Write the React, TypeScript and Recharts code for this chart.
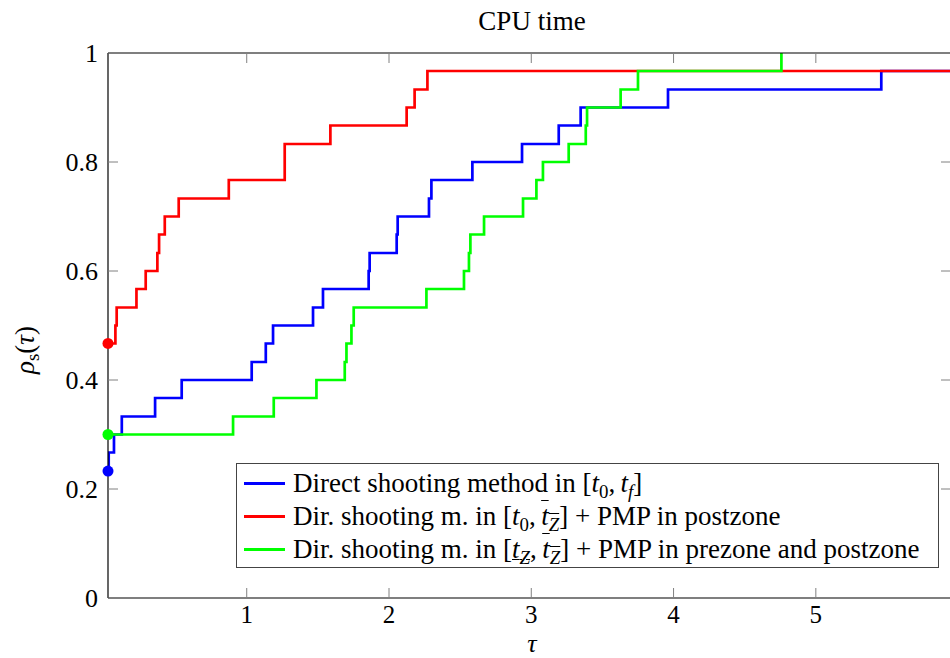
import React from 'react';
import { LineChart, Line, XAxis, YAxis, ReferenceDot } from 'recharts';

// tau at which each step starts, and the profile value from there on
const directTau = [0.025, 0.03, 0.067, 0.122, 0.356, 0.543, 1.035, 1.134, 1.185, 1.466, 1.536, 1.857, 1.864, 2.054, 2.061, 2.281, 2.298, 2.586, 2.935, 3.193, 3.347, 3.961, 5.46, 5.95];
const directRho = [0.233, 0.267, 0.3, 0.333, 0.367, 0.4, 0.433, 0.467, 0.5, 0.533, 0.567, 0.6, 0.633, 0.667, 0.7, 0.733, 0.767, 0.8, 0.833, 0.867, 0.9, 0.933, 0.967, 0.967];

const postTau = [0.025, 0.077, 0.086, 0.225, 0.29, 0.372, 0.384, 0.424, 0.522, 0.874, 1.267, 1.588, 2.124, 2.18, 2.27, 5.95];
const postRho = [0.467, 0.5, 0.533, 0.567, 0.6, 0.633, 0.667, 0.7, 0.733, 0.767, 0.833, 0.867, 0.9, 0.933, 0.967, 0.967];

const prePostTau = [0.025, 0.904, 1.19, 1.49, 1.689, 1.701, 1.736, 1.752, 2.263, 2.527, 2.562, 2.572, 2.668, 2.942, 3.036, 3.082, 3.263, 3.383, 3.392, 3.628, 3.75, 4.758];
const prePostRho = [0.3, 0.333, 0.367, 0.4, 0.433, 0.467, 0.5, 0.533, 0.567, 0.6, 0.633, 0.667, 0.7, 0.733, 0.767, 0.8, 0.833, 0.867, 0.9, 0.933, 0.967, 1.0];

const X_TICKS = [1, 2, 3, 4, 5];
const Y_TICKS = [0, 0.2, 0.4, 0.6, 0.8, 1];
const X_DOMAIN = [0.025, 5.95];

const FONT = '"Liberation Serif", "DejaVu Serif", "Noto Serif", "Times New Roman", Times, serif';
const TICK_GRAY = '#808080';

const toPoints = (tau: number[], rho: number[]) => tau.map((t, i) => ({ tau: t, rho: rho[i] }));

const series = [
  { name: 'direct', color: '#0000ff', data: toPoints(directTau, directRho) },
  { name: 'post', color: '#ff0000', data: toPoints(postTau, postRho) },
  { name: 'prepost', color: '#00ff00', data: toPoints(prePostTau, prePostRho) },
];

const BottomTick = (p: any) => (
  <g>
    <line x1={p.x} y1={p.y} x2={p.x} y2={p.y - 10} stroke={TICK_GRAY} />
    <text x={p.x} y={p.y + 25} textAnchor="middle" fontFamily={FONT} fontSize={25} fill="#000">
      {p.payload.value}
    </text>
  </g>
);
const TopTick = (p: any) => <line x1={p.x} y1={p.y} x2={p.x} y2={p.y + 10} stroke={TICK_GRAY} />;
const LeftTick = (p: any) => (
  <g>
    <line x1={p.x} y1={p.y} x2={p.x + 10} y2={p.y} stroke={TICK_GRAY} />
    <text x={p.x - 10} y={p.y + 9} textAnchor="end" fontFamily={FONT} fontSize={26} fill="#000">
      {p.payload.value}
    </text>
  </g>
);
const RightTick = (p: any) => <line x1={p.x} y1={p.y} x2={p.x - 10} y2={p.y} stroke={TICK_GRAY} />;

const T = ({ sub, over, under }: { sub: React.ReactNode; over?: boolean; under?: boolean }) => (
  <span style={{ textDecoration: over ? 'overline' : under ? 'underline' : 'none', textDecorationThickness: 1 }}>
    <i>t</i>
    <sub style={{ fontSize: '0.7em', lineHeight: 0 }}>{sub}</sub>
  </span>
);

const legendRows = [
  {
    color: '#0000ff',
    label: (
      <>Direct shooting method in [<T sub="0" />,&thinsp;<T sub={<i>f</i>} />]</>
    ),
  },
  {
    color: '#ff0000',
    label: (
      <>Dir. shooting m. in [<T sub="0" />,&thinsp;<T sub={<i>Z</i>} over />] + PMP in postzone</>
    ),
  },
  {
    color: '#00ff00',
    label: (
      <>Dir. shooting m. in [<T sub={<i>Z</i>} under />,&thinsp;<T sub={<i>Z</i>} over />] + PMP in prezone and postzone</>
    ),
  },
];

export default function App() {
  return (
    <div style={{ position: 'absolute', left: 0, top: 0, width: 950, height: 658, overflow: 'hidden', background: '#fff' }}>
      <LineChart width={952} height={658} margin={{ top: 52, right: 0, bottom: 0, left: 0 }}>
        {series.map((s) => (
          <Line
            key={s.name}
            data={s.data}
            dataKey="rho"
            type="stepAfter"
            stroke={s.color}
            strokeWidth={2.7}
            dot={false}
            activeDot={false}
            isAnimationActive={false}
          />
        ))}
        {series.map((s) => (
          <ReferenceDot
            key={s.name + '-start'}
            x={s.data[0].tau}
            y={s.data[0].rho}
            r={5.5}
            fill={s.color}
            stroke="none"
            ifOverflow="visible"
          />
        ))}
        <XAxis
          dataKey="tau"
          type="number"
          domain={X_DOMAIN}
          ticks={X_TICKS}
          allowDataOverflow
          height={60}
          tickSize={0}
          tickMargin={0}
          tickLine={false}
          tick={<BottomTick />}
          axisLine={{ stroke: '#000', strokeWidth: 1.2 }}
        />
        <XAxis
          xAxisId="top"
          orientation="top"
          dataKey="tau"
          type="number"
          domain={X_DOMAIN}
          ticks={X_TICKS}
          allowDataOverflow
          height={1}
          tickSize={0}
          tickMargin={0}
          tickLine={false}
          tick={<TopTick />}
          axisLine={{ stroke: '#000', strokeWidth: 1.2 }}
        />
        <YAxis
          type="number"
          domain={[0, 1]}
          ticks={Y_TICKS}
          allowDataOverflow
          width={108}
          tickSize={0}
          tickMargin={0}
          tickLine={false}
          tick={<LeftTick />}
          axisLine={{ stroke: '#000', strokeWidth: 1.2 }}
        />
        <YAxis
          yAxisId="right"
          orientation="right"
          type="number"
          domain={[0, 1]}
          ticks={Y_TICKS}
          allowDataOverflow
          width={1}
          tickSize={0}
          tickMargin={0}
          tickLine={false}
          tick={<RightTick />}
          axisLine={{ stroke: '#000', strokeWidth: 1.2 }}
        />
      </LineChart>

      <svg width={950} height={658} style={{ position: 'absolute', left: 0, top: 0, pointerEvents: 'none' }}>
        <text x={532} y={30} textAnchor="middle" fontFamily={FONT} fontSize={27}>CPU time</text>
        <text x={532} y={652} textAnchor="middle" fontFamily={FONT} fontSize={26} fontStyle="italic">τ</text>
        <text transform="translate(34,350) rotate(-90)" textAnchor="middle" fontFamily={FONT} fontSize={27}>
          <tspan fontStyle="italic">ρ</tspan>
          <tspan fontSize={19} dy={5}>s</tspan>
          <tspan dy={-5}>(</tspan>
          <tspan fontStyle="italic">τ</tspan>
          <tspan>)</tspan>
        </text>
      </svg>

      <div
        style={{
          position: 'absolute',
          left: 236,
          top: 463,
          width: 703,
          height: 105,
          boxSizing: 'border-box',
          border: '1px solid #444',
          background: '#fff',
          paddingTop: 3,
          fontFamily: FONT,
          fontSize: 27,
        }}
      >
        {legendRows.map((r, i) => (
          <div key={i} style={{ display: 'flex', alignItems: 'center', height: 33, whiteSpace: 'nowrap' }}>
            <div style={{ width: 41, height: 3, background: r.color, marginLeft: 7, marginRight: 8 }} />
            <span style={{ lineHeight: '33px' }}>{r.label}</span>
          </div>
        ))}
      </div>
    </div>
  );
}
